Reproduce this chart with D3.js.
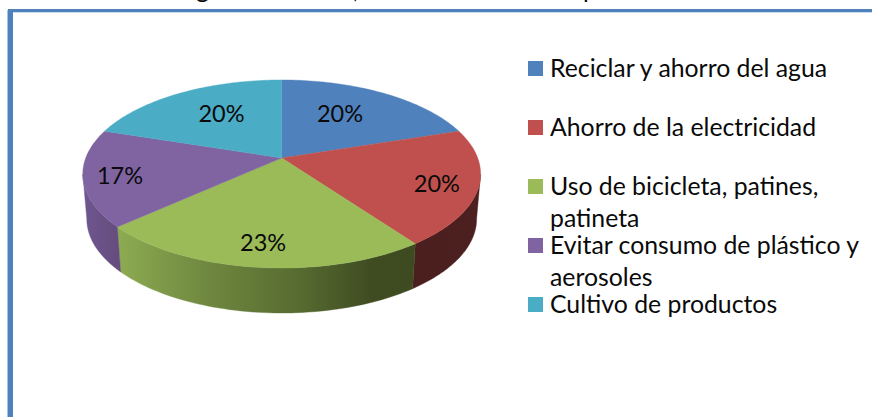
<!DOCTYPE html>
<html>
<head>
<meta charset="utf-8">
<script src="https://cdn.jsdelivr.net/npm/d3@7/dist/d3.min.js"></script>
<style>
html,body{margin:0;padding:0;background:#fff;overflow:hidden}
svg{display:block}
text{font-family:Lato,"Open Sans",sans-serif;fill:#0a0a0a}
</style>
</head>
<body>
<svg id="chart" width="872" height="417"></svg>
<script>
const categories = ["Reciclar y ahorro del agua","Ahorro de la electricidad","Uso de bicicleta, patines, patineta","Evitar consumo de plástico y aerosoles","Cultivo de productos"];
const legendLines = [["Reciclar y ahorro del agua"],["Ahorro de la electricidad"],["Uso de bicicleta, patines,","patineta"],["Evitar consumo de plástico y","aerosoles"],["Cultivo de productos"]];
const values = [20,20,23.33,16.67,20];
const colors = ["#4f81bd","#c0504d","#9bbb59","#8064a2","#4bacc6"];
const clippedTitle = ["g",",","p"];

const svg = d3.select("#chart");
const cx = 281.7, cy = 158, A = 196, B = 91.3, P = 0.17, depth = 45, baseShrink = 0.98;

// Perspective projection of the unit disc (angle clockwise from 12 o'clock)
function project(angle, r = 1) {
  const u = r * Math.sin(angle), v = r * Math.cos(angle), w = 1 + P * v;
  return [cx + A * u / w, cy - B * v / w];
}
function projectBase(angle) {
  const [x, y] = project(angle);
  return [cx + (x - cx) * baseShrink, y + depth];
}
const line = d3.line();
const sample = (a0, a1, f) => d3.range(0, 61).map(i => f(a0 + (a1 - a0) * i / 60));

const arcs = d3.pie().sort(null).value(d => d)(values);

// frame
svg.append("rect").attr("x", 7).attr("y", 10).attr("width", 1).attr("height", 407).attr("fill", "#a9c2e0");
svg.append("rect").attr("x", 8).attr("y", 9).attr("width", 5).attr("height", 408).attr("fill", "#4f81bd");
svg.append("rect").attr("x", 8).attr("y", 9).attr("width", 864).attr("height", 3.3).attr("fill", "#4f81bd");

// cut-off line of text above the frame
const titleX = d3.scaleOrdinal().domain(clippedTitle).range([196, 353, 583]);
svg.selectAll("text.top").data(clippedTitle).join("text").attr("class", "top")
  .attr("x", d => titleX(d)).attr("y", -2).attr("font-size", 25).text(d => d);

// side gradients
const defs = svg.append("defs");
const sideStops = [
  [[0, "#4a1f1e"], [1, "#4d2020"]],
  [[0, "#8dab52"], [0.3, "#6f883f"], [0.62, "#566a30"], [0.85, "#3f4c21"], [1, "#3e4a20"]],
  [[0, "#6f5790"], [1, "#654d7f"]]
];
const visibleFrom = Math.acos(-P), visibleTo = 2 * Math.PI - visibleFrom;
const sideSlices = arcs.map((a, i) => ({
  i, a0: Math.max(a.startAngle, visibleFrom), a1: Math.min(a.endAngle, visibleTo)
})).filter(d => d.a1 > d.a0);

sideSlices.forEach((d, k) => {
  const x0 = project(d.a1)[0], x1 = project(d.a0)[0];
  const g = defs.append("linearGradient").attr("id", "side" + d.i)
    .attr("gradientUnits", "userSpaceOnUse")
    .attr("x1", Math.min(x0, x1)).attr("x2", Math.max(x0, x1)).attr("y1", 0).attr("y2", 0);
  sideStops[k].forEach(s => g.append("stop").attr("offset", s[0]).attr("stop-color", s[1]));
});

// sides: drawn first, top faces cover them
svg.selectAll("path.side").data(sideSlices).join("path").attr("class", "side")
  .attr("d", d => line([...sample(d.a0, d.a1, project), ...sample(d.a1, d.a0, projectBase)]) + "Z")
  .attr("fill", d => `url(#side${d.i})`)
  .attr("stroke", d => `url(#side${d.i})`).attr("stroke-width", 0.4);

// top faces
svg.selectAll("path.face").data(arcs).join("path").attr("class", "face")
  .attr("d", d => line([[cx, cy], ...sample(d.startAngle, d.endAngle, project)]) + "Z")
  .attr("fill", (d, i) => colors[i]).attr("stroke", (d, i) => colors[i]).attr("stroke-width", 0.4);

// percentage labels: placed on the disc near each slice's mid-angle
const labelRadius = [0.63, 0.80, 0.80, 0.82, 0.63];
const labelTurn = [-5, 1, -0.1, -0.6, 3.9].map(d => d * Math.PI / 180);
svg.selectAll("text.pct").data(arcs).join("text").attr("class", "pct")
  .attr("text-anchor", "middle").attr("dominant-baseline", "central").attr("font-size", 23.5)
  .attr("transform", (d, i) => {
    const p = project((d.startAngle + d.endAngle) / 2 + labelTurn[i], labelRadius[i]);
    return `translate(${p[0]},${p[1]})`;
  })
  .text(d => Math.round(d.value) + "%");

// legend
const legendY = d3.scalePoint().domain(d3.range(categories.length)).range([61, 297]);
const legend = svg.selectAll("g.leg").data(categories).join("g").attr("class", "leg")
  .attr("transform", (d, i) => `translate(528,${legendY(i)})`);
legend.append("rect").attr("width", 15).attr("height", 15).attr("fill", (d, i) => colors[i]);
legend.each(function(d, i) {
  d3.select(this).selectAll("text").data(legendLines[i]).join("text")
    .attr("x", 22).attr("y", (t, j) => 15.5 + j * 32.3)
    .attr("font-size", 24.8).text(t => t);
});
</script>
</body>
</html>
